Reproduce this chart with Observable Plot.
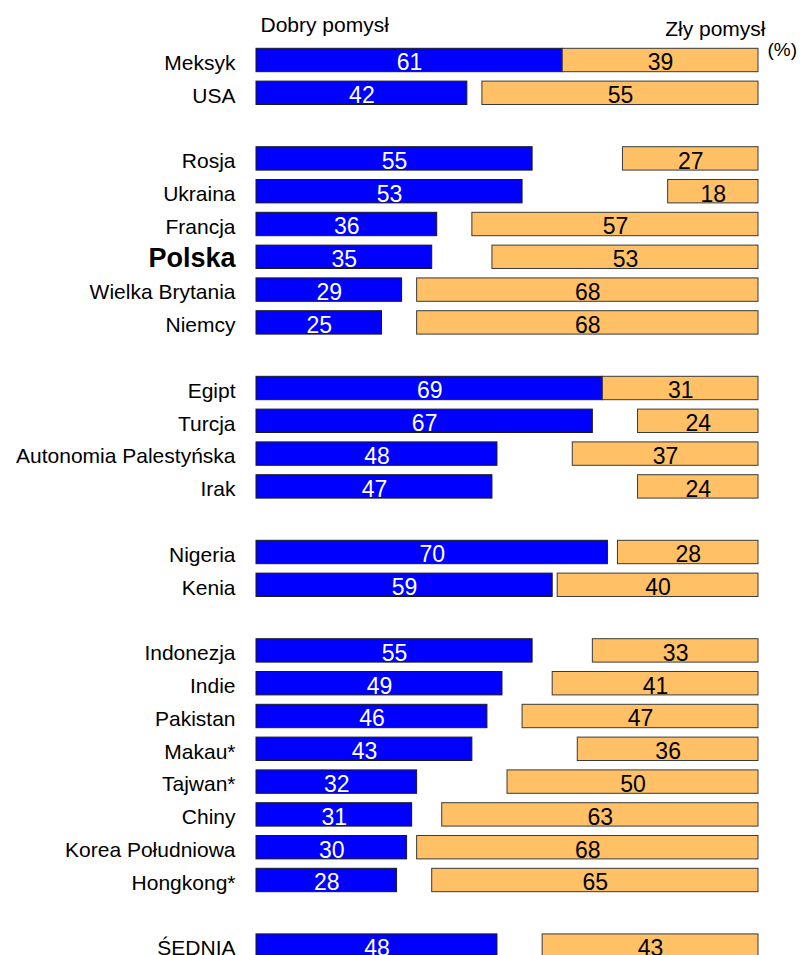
<!DOCTYPE html>
<html><head><meta charset="utf-8">
<script src="https://cdn.jsdelivr.net/npm/d3@7"></script>
<script src="https://cdn.jsdelivr.net/npm/@observablehq/plot@0.6"></script>
<style>
body{margin:0;background:#fff;}
#chart{position:relative;width:800px;height:955px;overflow:hidden;}
</style>
</head><body><div id="chart"></div>
<script>
// rows ("" entries are blank group separators)
const countries = ["Meksyk","USA","",
  "Rosja","Ukraina","Francja","Polska","Wielka Brytania","Niemcy","",
  "Egipt","Turcja","Autonomia Palestyńska","Irak","",
  "Nigeria","Kenia","",
  "Indonezja","Indie","Pakistan","Makau*","Tajwan*","Chiny","Korea Południowa","Hongkong*","",
  "ŚEDNIA"];
const good = [61,42,null, 55,53,36,35,29,25,null, 69,67,48,47,null, 70,59,null, 55,49,46,43,32,31,30,28,null, 48];
const bad  = [39,55,null, 27,18,57,53,68,68,null, 31,24,37,24,null, 28,40,null, 33,41,47,36,50,63,68,65,null, 43];
const headerGood = "Dobry pomysł";
const headerBad = "Zły pomysł";
const unit = "(%)";
const boldCountry = "Polska";

const keys = countries.map((c,i)=> c === "" ? "_gap"+i : c);
const rows = countries.map((c,i)=>({key:keys[i], name:c, good:good[i], bad:bad[i]})).filter(d=>d.name!=="");
const normalRows = rows.filter(d=>d.name!==boldCountry);
const boldRows = rows.filter(d=>d.name===boldCountry);

const step = 32.8, pad = 0.287;
const y0 = 60 - step*(0.5 + pad/2);
const font = "Liberation Sans, Arial, sans-serif";

const plot = Plot.plot({
  width: 800, height: 955,
  marginLeft: 256, marginRight: 42, marginTop: 0, marginBottom: 0,
  style: {fontFamily: font, background: "#fff"},
  x: {domain: [0,100], axis: null},
  y: {type: "band", domain: keys, range: [y0, y0 + step*(keys.length + pad)], padding: pad, round: false, axis: null},
  marks: [
    Plot.barX(rows, {y:"key", x1:0, x2:"good", fill:"#0000FF", stroke:"#1a1a1a", strokeWidth:1}),
    Plot.barX(rows, {y:"key", x1:d=>100-d.bad, x2:100, fill:"#FFC066", stroke:"#3a3a3a", strokeWidth:1}),
    Plot.text(rows, {y:"key", x:d=>d.good/2, text:d=>String(d.good), fill:"#fff", fontSize:23, dy:2.6}),
    Plot.text(rows, {y:"key", x:d=>100-d.bad/2, text:d=>String(d.bad), fill:"#000", fontSize:23, dy:2.6}),
    Plot.text(normalRows, {y:"key", x:0, dx:-21, dy:2.5, text:"name", textAnchor:"end", fill:"#000", fontSize:21}),
    Plot.text(boldRows, {y:"key", x:0, dx:-21, dy:1.2, text:"name", textAnchor:"end", fill:"#000", fontSize:27, fontWeight:"bold"}),
    Plot.text([headerGood], {x:0, frameAnchor:"top", lineAnchor:"bottom", dy:31.7, dx:4, text:d=>d, textAnchor:"start", fontSize:21, fill:"#000"}),
    Plot.text([headerBad], {x:100, frameAnchor:"top", lineAnchor:"bottom", dy:35, dx:7, text:d=>d, textAnchor:"end", fontSize:21, fill:"#000"}),
    Plot.text([unit], {x:100, frameAnchor:"top", lineAnchor:"bottom", dy:55, dx:9, text:d=>d, textAnchor:"start", fontSize:19, fill:"#000"})
  ]
});
document.getElementById("chart").appendChild(plot);
</script>
</body></html>
